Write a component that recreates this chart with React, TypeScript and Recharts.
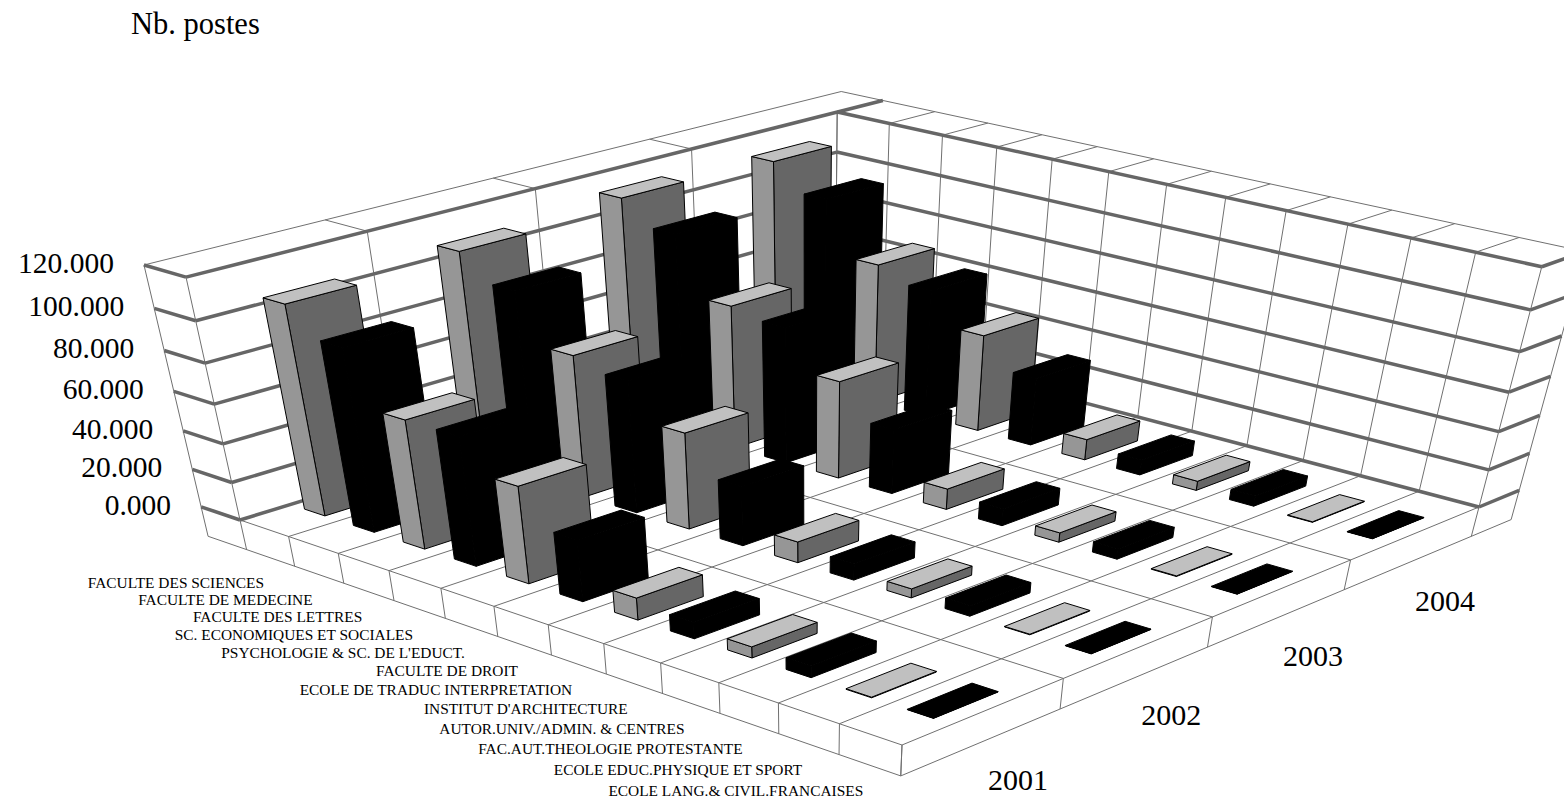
import React from 'react';
import { BarChart, Bar, XAxis, YAxis, Customized } from 'recharts';

const faculties = [
  'FACULTE DES SCIENCES',
  'FACULTE DE MEDECINE',
  'FACULTE DES LETTRES',
  'SC. ECONOMIQUES ET SOCIALES',
  "PSYCHOLOGIE & SC. DE L'EDUCT.",
  'FACULTE DE DROIT',
  'ECOLE DE TRADUC INTERPRETATION',
  "INSTITUT D'ARCHITECTURE",
  'AUTOR.UNIV./ADMIN. & CENTRES',
  'FAC.AUT.THEOLOGIE PROTESTANTE',
  'ECOLE EDUC.PHYSIQUE ET SPORT',
  'ECOLE LANG.& CIVIL.FRANCAISES',
];
const years = ['2001', '2002', '2003', '2004'];
const values2001 = [106000, 93000, 66000, 66000, 50000, 32000, 11500, 8500, 5800, 6000, 300, 200];
const values2002 = [109000, 97000, 73000, 68000, 50000, 31000, 11000, 8500, 4800, 5500, 300, 200];
const values2003 = [114000, 103000, 74500, 71000, 51000, 34000, 11000, 9000, 5000, 5500, 300, 200];
const values2004 = [112500, 100000, 73500, 67000, 51000, 36000, 11000, 8000, 5000, 5500, 300, 200];
const yTicks = [0, 20000, 40000, 60000, 80000, 100000, 120000];

const data = faculties.map((faculty, i) => ({
  faculty,
  y2001: values2001[i],
  y2002: values2002[i],
  y2003: values2003[i],
  y2004: values2004[i],
}));

const WIDTH = 1564;
const HEIGHT = 805;
const PLOT_H = HEIGHT - 1; // the x axis keeps one pixel
const MAX_VALUE = 120000;
const FONT = '"Liberation Serif", "Times New Roman", serif';

// floor corners of the 3d box on screen, and the vanishing point of the verticals
const FLOOR_L = [240, 520];
const FLOOR_F = [902, 745];
const FLOOR_R = [1479, 507];
const FLOOR_B = [835, 337];
const VANISH = [808, 3075];
const HEIGHT_WEIGHT = -0.0868;
const WALL_U = 0.068;
const WALL_V = 0.082;
const BASE_T = -0.135;

const dx1 = FLOOR_F[0] - FLOOR_R[0];
const dx2 = FLOOR_B[0] - FLOOR_R[0];
const sx = FLOOR_L[0] - FLOOR_F[0] + FLOOR_R[0] - FLOOR_B[0];
const dy1 = FLOOR_F[1] - FLOOR_R[1];
const dy2 = FLOOR_B[1] - FLOOR_R[1];
const sy = FLOOR_L[1] - FLOOR_F[1] + FLOOR_R[1] - FLOOR_B[1];
const det = dx1 * dy2 - dx2 * dy1;
const g = (sx * dy2 - dx2 * sy) / det;
const h = (dx1 * sy - sx * dy1) / det;

// u runs along the faculties, v along the years, t is height (1 = 120.000)
function project(u: number, v: number, t: number): [number, number] {
  const w = 1 + g * u + h * v;
  const a = FLOOR_F[0] - FLOOR_L[0] + g * FLOOR_F[0];
  const b = FLOOR_B[0] - FLOOR_L[0] + h * FLOOR_B[0];
  const d = FLOOR_F[1] - FLOOR_L[1] + g * FLOOR_F[1];
  const e = FLOOR_B[1] - FLOOR_L[1] + h * FLOOR_B[1];
  const px = a * u + b * v + FLOOR_L[0];
  const py = d * u + e * v + FLOOR_L[1];
  const st = HEIGHT_WEIGHT * t;
  return [(px + st * VANISH[0]) / (w + st), (py + st * VANISH[1]) / (w + st)];
}

function poly(points: [number, number, number][]) {
  return points
    .map(([u, v, t]) => project(u, v, t).map((n) => n.toFixed(1)).join(','))
    .join(' ');
}

function Seg({ a, b, thick }: { a: number[]; b: number[]; thick?: boolean }) {
  const p = project(a[0], a[1], a[2]);
  const q = project(b[0], b[1], b[2]);
  return (
    <line
      x1={p[0]}
      y1={p[1]}
      x2={q[0]}
      y2={q[1]}
      stroke={thick ? '#666666' : '#707070'}
      strokeWidth={thick ? 3.5 : 1}
    />
  );
}

function Box3D() {
  const uLines = faculties.map((_, i) => i / faculties.length);
  uLines.push(1);
  const vLines = [0, 0.25, 0.5, 0.75, 1];
  const ts = yTicks.map((v) => v / MAX_VALUE);
  return (
    <g>
      {/* floor grid */}
      {uLines.map((u) => (
        <Seg key={`fu${u}`} a={[u, 0, 0]} b={[u, 1, 0]} />
      ))}
      {vLines.map((v) => (
        <Seg key={`fv${v}`} a={[0, v, 0]} b={[1, v, 0]} />
      ))}
      {/* slab */}
      {uLines.map((u) => (
        <Seg key={`bu${u}`} a={[u, 0, 0]} b={[u, 0, BASE_T]} />
      ))}
      {vLines.map((v) => (
        <Seg key={`bv${v}`} a={[1, v, 0]} b={[1, v, BASE_T]} />
      ))}
      <Seg a={[-WALL_U, 0, BASE_T]} b={[1, 0, BASE_T]} />
      <Seg a={[1, 0, BASE_T]} b={[1, 1 + WALL_V, BASE_T]} />
      <Seg a={[-WALL_U, 0, 1]} b={[-WALL_U, 0, BASE_T]} />
      <Seg a={[1, 1 + WALL_V, 1]} b={[1, 1 + WALL_V, BASE_T]} />
      {/* wall verticals */}
      {vLines.map((v) => (
        <Seg key={`wa${v}`} a={[0, v, 0]} b={[0, v, 1]} />
      ))}
      {uLines.map((u) => (
        <Seg key={`wb${u}`} a={[u, 1, 0]} b={[u, 1, 1]} />
      ))}
      {/* wall tops */}
      <Seg a={[-WALL_U, 0, 1]} b={[-WALL_U, 1 + WALL_V, 1]} />
      <Seg a={[-WALL_U, 1 + WALL_V, 1]} b={[1, 1 + WALL_V, 1]} />
      {vLines.slice(1, 4).map((v) => (
        <Seg key={`ta${v}`} a={[0, v, 1]} b={[-WALL_U, v, 1]} />
      ))}
      {uLines.slice(1, 12).map((u) => (
        <Seg key={`tb${u}`} a={[u, 1, 1]} b={[u, 1 + WALL_V, 1]} />
      ))}
      {/* value gridlines */}
      {ts.map((t) => (
        <g key={`g${t}`}>
          <Seg thick a={[0, 0, t]} b={[0, t === 1 ? 1 + WALL_V : 1, t]} />
          <Seg thick a={[0, 1, t]} b={[1, 1, t]} />
          <Seg thick a={[0, 0, t]} b={[-WALL_U, 0, t]} />
          <Seg thick a={[1, 1, t]} b={[1, 1 + WALL_V, t]} />
        </g>
      ))}
      {/* year labels */}
      {years.map((year, j) => {
        const p = project(1, (j + 0.5) / years.length, BASE_T);
        return (
          <text
            key={year}
            x={p[0] + 6}
            y={p[1] + 48}
            fontFamily={FONT}
            fontSize={30}
            fill="#000"
          >
            {year}
          </text>
        );
      })}
      <text x={131} y={34} fontFamily={FONT} fontSize={30.5} fill="#000">
        Nb. postes
      </text>
    </g>
  );
}

function makeBarShape(yearIndex: number) {
  return function BarShape(props: any) {
    const i = props.index as number;
    const t = props.height / PLOT_H;
    const u0 = (i + 0.29) / faculties.length;
    const u1 = (i + 0.71) / faculties.length;
    const v0 = (yearIndex + 0.3) / years.length;
    const v1 = (yearIndex + 0.7) / years.length;
    const black = i % 2 === 1;
    const line = { stroke: '#000', strokeWidth: 1, strokeLinejoin: 'round' as const };
    return (
      <g>
        <polygon
          points={poly([[u1, v0, 0], [u1, v1, 0], [u1, v1, t], [u1, v0, t]])}
          fill={black ? '#000' : '#666666'}
          {...line}
        />
        <polygon
          points={poly([[u0, v0, 0], [u1, v0, 0], [u1, v0, t], [u0, v0, t]])}
          fill={black ? '#000' : '#969696'}
          {...line}
        />
        <polygon
          points={poly([[u0, v0, t], [u1, v0, t], [u1, v1, t], [u0, v1, t]])}
          fill={black ? '#000' : '#c0c0c0'}
          {...line}
        />
      </g>
    );
  };
}

function FacultyTick(props: any) {
  const i = props.index as number;
  const p = project((i + 0.5) / faculties.length, 0, BASE_T);
  return (
    <text
      x={p[0] - 6.5}
      y={p[1] + 30.5}
      textAnchor="end"
      fontFamily={FONT}
      fontSize={15.4}
      fill="#000"
    >
      {props.payload.value}
    </text>
  );
}

function ValueTick(props: any) {
  const t = (PLOT_H - props.y) / PLOT_H;
  const p = project(-WALL_U, 0, t);
  return (
    <text
      x={p[0] - 30}
      y={p[1] + 8}
      textAnchor="end"
      fontFamily={FONT}
      fontSize={29.5}
      fill="#000"
    >
      {(props.payload.value / 1000).toFixed(3)}
    </text>
  );
}

export default function App() {
  return (
    <div style={{ position: 'absolute', left: 0, top: 0, width: WIDTH, height: HEIGHT, overflow: 'hidden' }}>
      <BarChart
        width={WIDTH}
        height={HEIGHT}
        data={data}
        margin={{ top: 0, right: 0, bottom: 0, left: 0 }}
      >
        <Customized component={Box3D} />
        <XAxis
          dataKey="faculty"
          height={1}
          interval={0}
          axisLine={false}
          tickLine={false}
          tick={FacultyTick}
        />
        <YAxis
          width={1}
          domain={[0, MAX_VALUE]}
          ticks={yTicks}
          interval={0}
          axisLine={false}
          tickLine={false}
          tick={ValueTick}
        />
        {/* back row first so the front rows paint over it */}
        <Bar dataKey="y2004" shape={makeBarShape(3)} isAnimationActive={false} />
        <Bar dataKey="y2003" shape={makeBarShape(2)} isAnimationActive={false} />
        <Bar dataKey="y2002" shape={makeBarShape(1)} isAnimationActive={false} />
        <Bar dataKey="y2001" shape={makeBarShape(0)} isAnimationActive={false} />
      </BarChart>
    </div>
  );
}
